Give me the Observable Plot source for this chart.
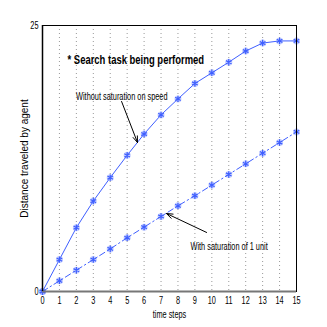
<!DOCTYPE html>
<html><head><meta charset="utf-8">
<script src="https://cdn.jsdelivr.net/npm/d3@7"></script>
<script src="https://cdn.jsdelivr.net/npm/@observablehq/plot@0.6"></script>
<style>
body{margin:0;background:#fff;}
svg{font-family:"Liberation Sans",Arial,sans-serif;}
</style>
</head><body>
<div id="chart"></div>
<script>
const timeSteps = [0,1,2,3,4,5,6,7,8,9,10,11,12,13,14,15];
const withoutSaturation = [0,3,6,8.5,10.7,12.8,14.8,16.6,18.1,19.55,20.55,21.55,22.6,23.35,23.55,23.55];
const withSaturation = [0,1,2,3,4,5.05,6.05,7.05,8.05,9,10,11,12,13,14,15];
const xTicks = timeSteps;
const yTicks = [0, 25];
const labels = [
  {x: 1.48, y: 21.8, text: "* Search task being performed", bold: true},
  {x: 1.98, y: 18.3, text: "Without saturation on speed", bold: false},
  {x: 8.74, y: 4.25, text: "With saturation of 1 unit", bold: false}
];
const arrows = [
  {x1: 4.67, y1: 17.86, x2: 5.61, y2: 14.0},
  {x1: 9.69, y1: 5.55, x2: 7.32, y2: 7.33}
];

const s1 = timeSteps.map((t,i)=>({t, v: withoutSaturation[i]}));
const s2 = timeSteps.map((t,i)=>({t, v: withSaturation[i]}));
const blue = "#3f5fff";

const plot = Plot.plot({
  width: 327, height: 327,
  marginLeft: 42, marginRight: 31, marginTop: 25, marginBottom: 36,
  style: {fontSize: "10.5px", background: "#fff"},
  x: {domain: [0,15], ticks: xTicks, tickSize: 0, tickPadding: 5, label: "time steps", labelAnchor: "center", labelArrow: "none", labelOffset: 26},
  y: {domain: [0,25], ticks: yTicks, tickSize: 0, tickPadding: 4, label: "Distance traveled by agent", labelAnchor: "center", labelArrow: "none", labelOffset: 22},
  marks: [
    Plot.gridX(xTicks, {stroke: "#999", strokeOpacity: 1, strokeDasharray: "1,3"}),
    Plot.line(s1, {x: "t", y: "v", stroke: blue, strokeWidth: 1}),
    Plot.line(s2, {x: "t", y: "v", stroke: blue, strokeWidth: 1, strokeDasharray: "6,3,1.5,3"}),
    Plot.dot(s1, {x: "t", y: "v", r: 3.5, fill: "#7f95ff", fillOpacity: 0.45, stroke: "none"}),
    Plot.dot(s2, {x: "t", y: "v", r: 3.5, fill: "#7f95ff", fillOpacity: 0.45, stroke: "none"}),
    Plot.dot(s1, {x: "t", y: "v", symbol: "asterisk", r: 3, stroke: blue, strokeWidth: 1.2}),
    Plot.dot(s2, {x: "t", y: "v", symbol: "asterisk", r: 3, stroke: blue, strokeWidth: 1.2}),
    Plot.frame({stroke: "#000", strokeWidth: 1}),
    Plot.ruleY([0], {stroke: "#777", strokeWidth: 2}),
    Plot.ruleX([0], {stroke: "#000", strokeWidth: 1.5}),
    Plot.arrow(arrows, {x1: "x1", y1: "y1", x2: "x2", y2: "y2", stroke: "#000", strokeWidth: 1, headLength: 10, headAngle: 40}),
    Plot.text(labels.filter(d=>d.bold), {x: "x", y: "y", text: "text", textAnchor: "start", fontWeight: "bold", fontSize: 13.5, fill: "#000"}),
    Plot.text(labels.filter(d=>!d.bold), {x: "x", y: "y", text: "text", textAnchor: "start", fontSize: 10.5, fill: "#000"})
  ]
});
document.getElementById("chart").appendChild(plot);
// emulate the narrow Helvetica used in the original
const ylab = plot.querySelector('[aria-label="y-axis label"]');
plot.querySelectorAll("text").forEach(t => {
  if (ylab && ylab.contains(t)) { t.style.fontSize = "10px"; return; }
  const len = t.getComputedTextLength();
  if (len > 0) {
    t.setAttribute("textLength", (len * 0.7).toFixed(2));
    t.setAttribute("lengthAdjust", "spacingAndGlyphs");
  }
});
</script>
</body></html>
